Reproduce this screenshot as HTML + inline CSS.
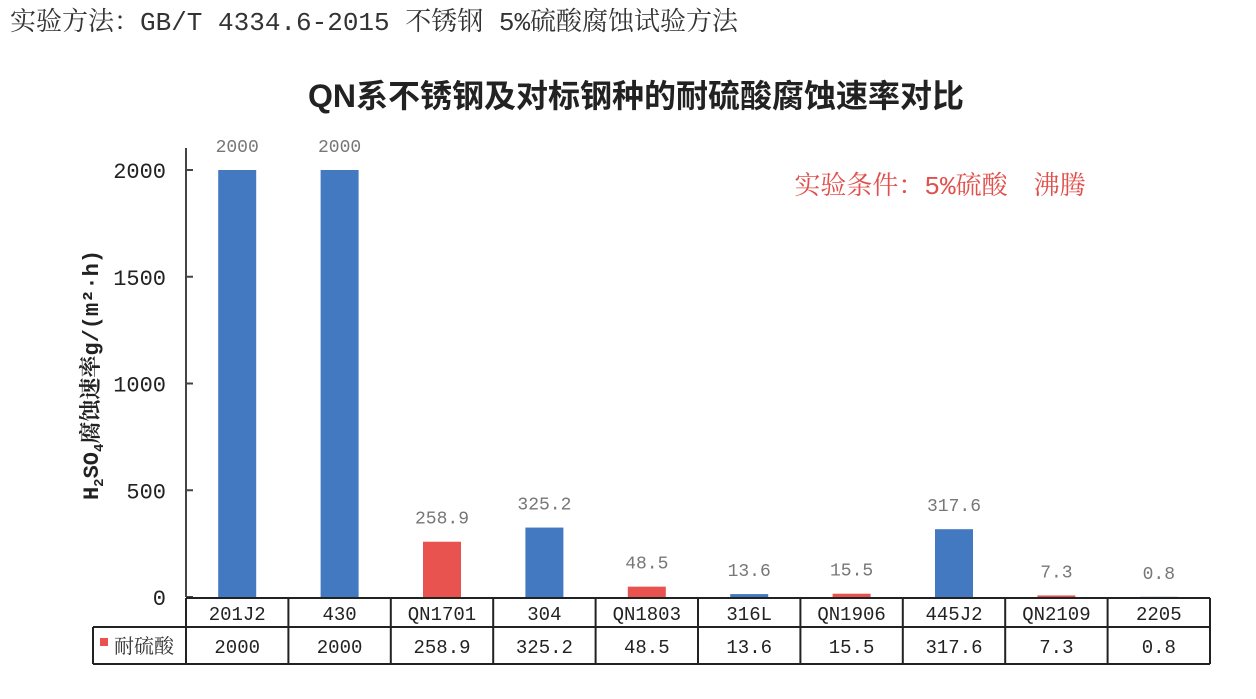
<!DOCTYPE html>
<html><head><meta charset="utf-8"><style>
body{margin:0;background:#fff;width:1256px;height:694px;overflow:hidden}
svg text{font-family:"Liberation Mono","Noto Serif CJK SC",monospace}
</style></head><body>
<svg width="1256" height="694" xmlns="http://www.w3.org/2000/svg">
<text x="10" y="30" font-size="26" fill="#333">实验方法：GB/T 4334.6-2015 不锈钢 5%硫酸腐蚀试验方法</text>
<text x="636" y="107" font-size="32" font-weight="bold" text-anchor="middle" fill="#222" style="font-family:'Liberation Sans','Noto Sans CJK SC',sans-serif">QN系不锈钢及对标钢种的耐硫酸腐蚀速率对比</text>
<text x="940" y="194" font-size="26" text-anchor="middle" fill="#e0504c">实验条件：5%硫酸　沸腾</text>
<text transform="translate(98,375) rotate(-90)" font-size="22" font-weight="bold" text-anchor="middle" fill="#222">H<tspan font-size="14" dy="5">2</tspan><tspan dy="-5">SO</tspan><tspan font-size="14" dy="5">4</tspan><tspan dy="-5">腐蚀速率g/(m²·h)</tspan></text>
<g id="axis"></g><g id="bars"></g><g id="table"></g>
</svg>
<script>
const categories=["201J2","430","QN1701","304","QN1803","316L","QN1906","445J2","QN2109","2205"];
const values=[2000,2000,258.9,325.2,48.5,13.6,15.5,317.6,7.3,0.8];
const labels=["2000","2000","258.9","325.2","48.5","13.6","15.5","317.6","7.3","0.8"];
const isQN=[false,false,true,false,true,false,true,false,true,false];
const yTicks=[0,500,1000,1500,2000];
const NS="http://www.w3.org/2000/svg";
const x0=186,x1=1210,y0=597,yTop=170;
const bw=(x1-x0)/categories.length;
const y=v=>y0-(v/2000)*(y0-yTop);
const xc=i=>x0+bw*(i+0.5);
function mk(tag,attrs,parent,txt){const e=document.createElementNS(NS,tag);for(const k in attrs)e.setAttribute(k,attrs[k]);if(txt!==undefined)e.textContent=txt;parent.appendChild(e);return e;}
const ax=document.getElementById('axis'),bars=document.getElementById('bars'),tb=document.getElementById('table');
let l=mk('line',{x1:x0,y1:148,x2:x0,y2:y0,stroke:'#444','stroke-width':2},ax);


yTicks.forEach(t=>{
 const tk=mk('line',{x1:x0,y1:y(t),x2:x0+7,y2:y(t),stroke:'#444','stroke-width':2},ax);
 
 
 const tx=mk('text',{x:166,y:y(t)+8,'font-size':22,'text-anchor':'end',fill:'#222'},ax,String(t));
 
 
});
values.forEach((v,i)=>{
 const r=mk('rect',{x:xc(i)-19,y:y(v),width:38,height:y0-y(v),fill:isQN[i]?'#e8534f':'#4279c0'},bars);
 
 
 const t=mk('text',{x:xc(i),y:y(v)-18,'font-size':18,'text-anchor':'middle',fill:'#777'},bars,labels[i]);
 
 
});
const r1=598,r2=627,r3=664;
const g=mk('g',{stroke:'#222','stroke-width':2,fill:'none'},tb);


mk('line',{x1:x0,y1:r1,x2:x1,y2:r1},g);
mk('line',{x1:93,y1:r2,x2:x1,y2:r2},g);
mk('line',{x1:93,y1:r3,x2:x1,y2:r3},g);
mk('line',{x1:93,y1:r2,x2:93,y2:r3},g);
for(let i=0;i<=categories.length;i++)mk('line',{x1:x0+bw*i,y1:r1,x2:x0+bw*i,y2:r3},g);
categories.forEach((c,i)=>{
 const t=mk('text',{x:xc(i),y:620,'font-size':19,'text-anchor':'middle',fill:'#222'},tb,c);
 
 
 const t2=mk('text',{x:xc(i),y:653,'font-size':19,'text-anchor':'middle',fill:'#222'},tb,labels[i]);
 
 
});
const lk=mk('rect',{x:100,y:638,width:8,height:8,fill:'#e8534f'},tb);


const lt=mk('text',{x:114,y:653,'font-size':20,fill:'#333'},tb,'耐硫酸');


</script>
</body></html>
